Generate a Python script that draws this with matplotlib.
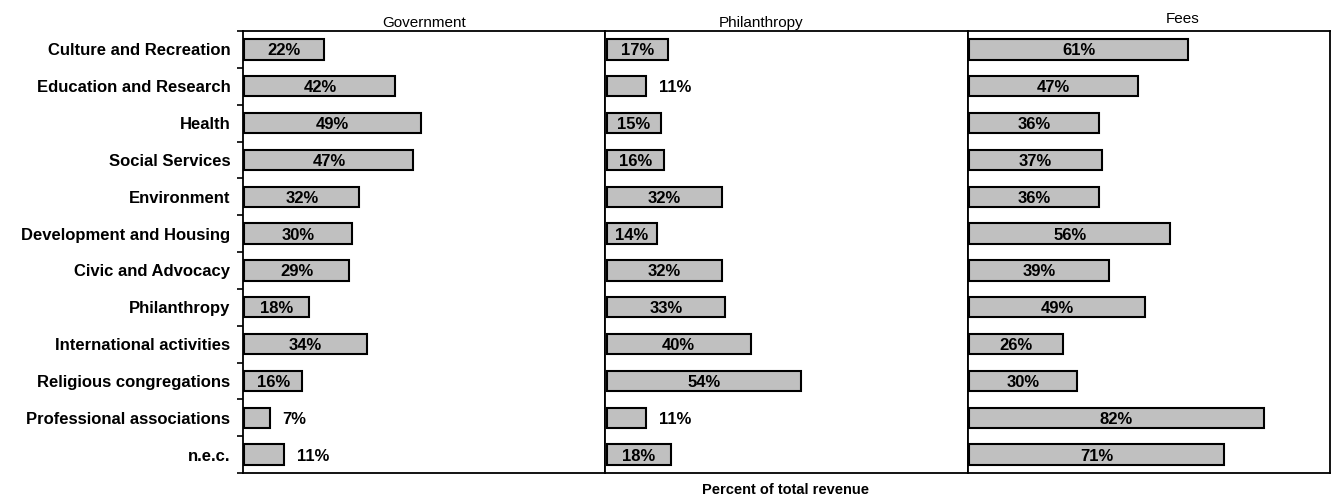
import numpy as np
import matplotlib.pyplot as plt

plt.rcParams['font.family'] = ['Liberation Sans', 'DejaVu Sans']

categories = [
    "Culture and Recreation", "Education and Research", "Health",
    "Social Services", "Environment", "Development and Housing",
    "Civic and Advocacy", "Philanthropy", "International activities",
    "Religious congregations", "Professional associations", "n.e.c.",
]
government = [22, 42, 49, 47, 32, 30, 29, 18, 34, 16, 7, 11]
philanthropy = [17, 11, 15, 16, 32, 14, 32, 33, 40, 54, 11, 18]
fees = [61, 47, 36, 37, 36, 56, 39, 49, 26, 30, 82, 71]

panels = [
    ("Government", government, 0.5, 1.009),
    ("Philanthropy", philanthropy, 0.431, 1.009),
    ("Fees", fees, 0.594, 1.018),
]

W, H = 1336, 497
fig = plt.figure(figsize=(W / 100, H / 100), dpi=100)

left, right = 243 / W, 1330 / W
top, bottom = 1 - 31 / H, 1 - 473 / H
pw = (right - left) / 3

y = np.arange(len(categories))
axes = []
for i, (title, vals, tx, ty) in enumerate(panels):
    ax = fig.add_axes([left + i * pw, bottom, pw, top - bottom])
    axes.append(ax)
    ax.barh(y, vals, height=0.55, left=0.4, color='#c0c0c0',
            edgecolor='black', linewidth=1.5)
    for yi, v in zip(y, vals):
        # short bars get their label just past the end
        if v >= 14:
            ax.text(0.4 + v / 2, yi + 0.04, f"{v}%", ha='center', va='center',
                    fontsize=12, fontweight='bold')
        else:
            ax.text(0.4 + v + 3.6, yi + 0.04, f"{v}%", ha='left', va='center',
                    fontsize=12, fontweight='bold')
    ax.set_xlim(0, 100.8)
    ax.set_ylim(len(categories) - 0.5, -0.5)
    ax.set_xticks([])
    ax.text(tx, ty, title, transform=ax.transAxes, ha='center',
            va='baseline', fontsize=11)
    for s in ax.spines.values():
        s.set_linewidth(1.3)
    if i == 0:
        ax.set_yticks(y)
        ax.set_yticklabels(categories, fontsize=12, fontweight='bold')
        ax.tick_params(axis='y', which='major', length=0, pad=9)
        ax.set_yticks(np.arange(len(categories) + 1) - 0.5, minor=True)
        ax.tick_params(axis='y', which='minor', length=4, width=1.2,
                       direction='out')
    else:
        ax.set_yticks([])

fig.text(786 / W, 1 - 490 / H, "Percent of total revenue", ha='center',
         va='center', fontsize=10.5, fontweight='bold')

fig.savefig("out.png", dpi=100)
